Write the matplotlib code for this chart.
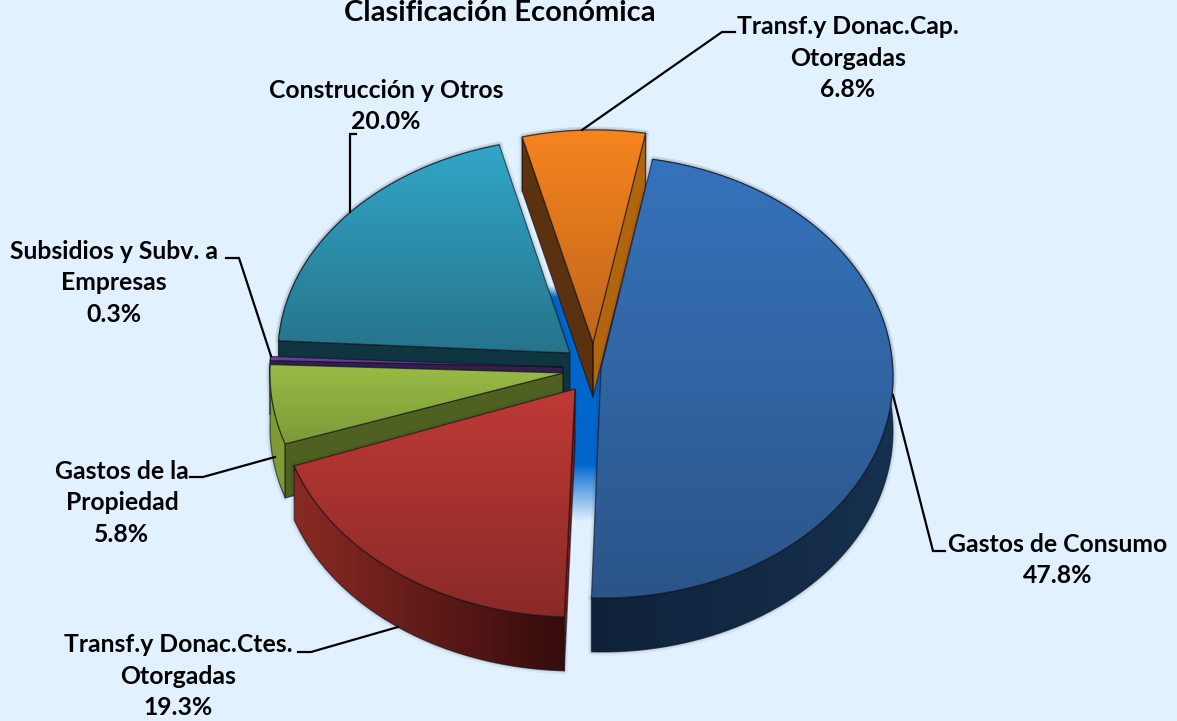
import numpy as np
import matplotlib
matplotlib.use("Agg")
import matplotlib.pyplot as plt
from matplotlib.path import Path
from matplotlib.patches import PathPatch

# ---- data
categories = ["Gastos de Consumo", "Transf.y Donac.Ctes.\nOtorgadas", "Gastos de la\nPropiedad",
              "Subsidios y Subv. a\nEmpresas", "Construcción y Otros", "Transf.y Donac.Cap.\nOtorgadas"]
values = [47.8, 19.3, 5.8, 0.3, 20.0, 6.8]
title = "Clasificación Económica"

# ---- layout (pixels, y down)
START = 10.0
DEPTH = 54
centres = [(602, 377), (575, 396), (566, 374), (566, 370), (573, 354), (595, 351)]
apexes = [(601, 368), (575, 389), (563, 373), (563, 367), (570, 353), (593, 343)]
radii_x = [291, 296, 296, 296, 295, 291]
radii_y = [221, 221, 221, 221, 216, 221]
top_cols = [("#3673BC", "#2B5589"), ("#BF3A36", "#8A2A27"), ("#9ABC45", "#7B9A38"),
            ("#6F459F", "#5A3585"), ("#31A6C6", "#26748B"), ("#F6841F", "#C0661A")]
outer_cols = [("#0F2239", "#16304F"), ("#8A2A24", "#350C0C"), ("#7F9B34", "#7F9B34"),
              ("#362052", "#362052"), ("#0F3540", "#0F3540"), ("#B2650F", "#B2650F")]
# colour of the radial face at the start and end of each slice; None = hidden at the back
radial_cols = [(None, None), ("#7A1B16", None), ("#4F6121", None),
               ("#362052", None), ("#0F3540", None), ("#5B3210", "#B2650F")]
label_pos = [(1058, 560), (178, 676), (122, 503), (114, 283), (386, 106), (848, 58)]
leaders = [[(893, 395), (933, 551), (945, 551)], [(398, 627), (311, 652), (298, 652)],
           [(275, 457), (203, 477), (190, 477)], [(271, 356), (239, 258), (226, 258)],
           [(350, 212), (350, 134), (356, 134)], [(582, 130), (722, 32), (735, 32)]]
BG = "#E1F1FF"
FONT = "Lato"

fig = plt.figure(figsize=(11.77, 7.21), dpi=100, facecolor=BG)
ax = fig.add_axes([0, 0, 1, 1])
ax.set_axis_off()


def rgb(c):
    return np.array(matplotlib.colors.to_rgb(c))


def soft_shadow(verts, z):
    v = np.asarray(verts)
    for lw in (5, 3):
        ax.add_patch(PathPatch(Path(np.vstack([v, v[0]])), fc="none", ec=(0.1, 0.1, 0.15, 0.05),
                               lw=lw, zorder=z, joinstyle="round"))


def grad_fill(verts, cols, axis, z):
    """Fill a polygon with a two-colour linear gradient. axis 0: vertical, 1: horizontal."""
    v = np.asarray(verts)
    x0, y0 = v.min(0)
    x1, y1 = v.max(0)
    t = np.linspace(0, 1, 128)
    ramp = np.outer(1 - t, rgb(cols[0])) + np.outer(t, rgb(cols[1]))
    img = ramp[:, None, :] if axis == 0 else ramp[None, :, :]
    im = ax.imshow(img, extent=(x0, x1, y1, y0), origin="upper", aspect="auto", zorder=z,
                   interpolation="bilinear")
    patch = PathPatch(Path(np.vstack([v, v[0]])), fc="none", ec="none", transform=ax.transData)
    ax.add_patch(patch)
    im.set_clip_path(patch)
    ax.add_patch(PathPatch(Path(np.vstack([v, v[0]])), fc="none", ec=(0.05, 0.05, 0.1, 0.6),
                           lw=0.9, zorder=z + 0.01, joinstyle="round"))


# central glow behind the slices
glow = np.array([(548, 285), (640, 285), (612, 370), (612, 530), (560, 530), (560, 400)], float)
gy = np.linspace(0, 1, 256)
glow_img = np.zeros((256, 1, 4))
glow_img[..., :3] = rgb("#0066CC")
ys = 270 + gy * 260
glow_img[:, 0, 3] = np.clip((ys - 285) / 12, 0, 1) * np.clip((522 - ys) / 58, 0, 1)
im = ax.imshow(glow_img, extent=(540, 640, 530, 270), origin="upper", aspect="auto", zorder=1)
gp = PathPatch(Path(np.vstack([glow, glow[0]])), fc="none", ec="none", transform=ax.transData)
ax.add_patch(gp)
im.set_clip_path(gp)

# slice angles derived from the values
total = sum(values)
edges = START + np.concatenate([[0], np.cumsum(values)]) / total * 360
draw_order = [5, 4, 3, 2, 1, 0]

for order, i in enumerate(draw_order):
    z = 2 + order
    th = np.radians(np.linspace(edges[i], edges[i + 1], 120))
    ex, ey = centres[i]
    arc = np.column_stack([ex + radii_x[i] * np.sin(th), ey - radii_y[i] * np.cos(th)])
    apex = np.array(apexes[i], float)
    down = np.array([0, DEPTH])
    outer = np.vstack([arc, (arc + down)[::-1]])
    top = np.vstack([apex, arc])
    # soft shadow under the solid
    if i != 3:
        soft_shadow(outer, z - 0.1)
        soft_shadow(top, z - 0.1)
    # outer wall
    grad_fill(outer, outer_cols[i], 1, z)
    # radial faces
    if radial_cols[i][0]:
        grad_fill([apex, arc[0], arc[0] + down, apex + down], (radial_cols[i][0],) * 2, 0, z + 0.2)
    if radial_cols[i][1]:
        grad_fill([apex, arc[-1], arc[-1] + down, apex + down], (radial_cols[i][1],) * 2, 0, z + 0.2)
    # top surface
    grad_fill(top, top_cols[i], 0, z + 0.4)

for pts in leaders:
    p = np.array(pts)
    ax.plot(p[:, 0], p[:, 1], color="black", lw=1.6, zorder=20, solid_joinstyle="miter")

for cat, val, (x, y) in zip(categories, values, label_pos):
    ax.text(x, y, f"{cat}\n{val:.1f}%", ha="center", va="center", family=FONT, weight="bold",
            fontsize=17.8, linespacing=1.44, color="black", zorder=21)
ax.text(500, 21, title, ha="center", va="baseline", family=FONT, weight="bold", fontsize=21,
        color="black", zorder=21)

ax.set_xlim(0, 1177)
ax.set_ylim(721, 0)
fig.savefig("out.png", dpi=100, facecolor=BG)
